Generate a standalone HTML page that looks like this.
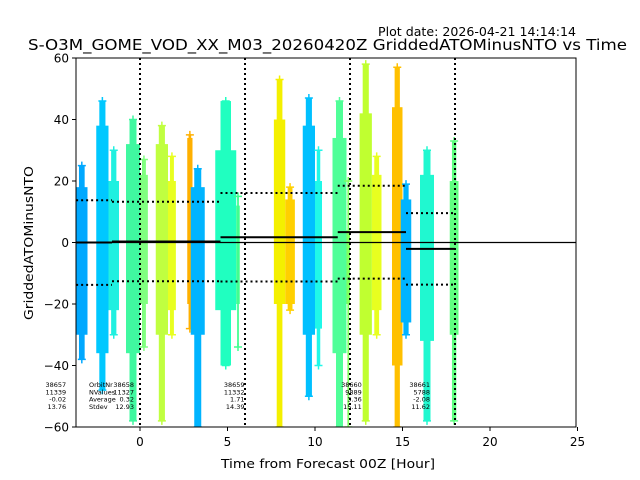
<!DOCTYPE html>
<html><head><meta charset="utf-8"><style>
body{margin:0;background:#fff;}
svg{display:block;font-family:"DejaVu Sans","Liberation Sans",sans-serif;}
</style></head><body>
<svg id="chart" width="640" height="480" xmlns="http://www.w3.org/2000/svg">
<text x="378" y="36" font-size="12" textLength="198" lengthAdjust="spacingAndGlyphs">Plot date: 2026-04-21 14:14:14</text>
<text x="28" y="50" font-size="15.5" textLength="599" lengthAdjust="spacingAndGlyphs">S-O3M_GOME_VOD_XX_M03_20260420Z GriddedATOMinusNTO vs Time</text>
<g id="marks"></g>
<rect x="76" y="58" width="500" height="369" fill="none" stroke="#000" stroke-width="1"/>
<g id="axes"></g>
<text x="221" y="468" font-size="12.5" textLength="214" lengthAdjust="spacingAndGlyphs">Time from Forecast 00Z [Hour]</text>
<text transform="translate(33,320) rotate(-90)" font-size="12.5" textLength="154" lengthAdjust="spacingAndGlyphs">GriddedATOMinusNTO</text>
</svg>
<script>
// strips: x start/end (hours), core top/bottom, tail top/bottom (values), colours
const stripX0 = [-3.65,-2.5,-1.8,-0.8,0.0,0.9,1.6,2.7,2.9,4.3,5.5,7.65,8.3,9.3,10.0,11.0,11.8,12.55,13.25,14.4,14.9,16.0,17.7];
const stripX1 = [-3.0,-1.8,-1.2,0.0,0.45,1.6,2.05,3.0,3.7,5.5,5.7,8.3,8.85,10.0,10.4,11.8,12.0,13.25,13.8,15.0,15.5,16.8,18.2];
const coreTop = [18,38,20,32,22,32,20,34,18,30,12,40,14,38,20,34,4,42,22,44,14,22,20];
const coreBot = [-30,-36,-22,-36,-20,-30,-22,-20,-30,-22,-20,-20,-20,-30,-28,-36,-20,-30,-22,-40,-26,-32,-30];
const tailTop = [25,46,30,40,27,38,28,35,24,46,15,53,18,47,30,46,20,58,28,57,19,30,33];
const tailBot = [-38,-48,-30,-58,-34,-58,-30,-28,-60,-40,-34,-60,-22,-50,-40,-60,-60,-58,-30,-60,-30,-58,-58];
const stripColor = ["#00a8ff","#00c8ff","#20f0e0","#40f8a0","#80ff80","#c0ff40","#e8ff20","#ffb000","#00b4ff","#20ffc0","#40ff90","#f4f000","#ffd000","#00c0ff","#20f8e8","#50ff98","#80ff60","#c0ff30","#e8ff20","#ffc000","#00b4ff","#20f8d0","#60ff80"];
// orbit statistics
const orbitNr = ["38657","38658","38659","38660","38661"];
const orbitStart = [-3.65,-1.6,4.6,11.3,15.2];
const orbitEnd = [-1.6,4.6,11.3,15.2,18.0];
const orbitN = ["11339","11327","11332","9889","5788"];
const orbitMean = [-0.02,0.32,1.71,3.36,-2.08];
const orbitStd = [13.76,12.93,14.39,15.11,11.62];
const vLines = [0,6,12,18];
const xTicks = [0,5,10,15,20,25];
const yTicks = [60,40,20,0,-20,-40,-60];

const X=h=>140+17.5*h;
const Y=v=>58+(60-v)*369/120;
const NS="http://www.w3.org/2000/svg";
const marks=document.getElementById('marks');
const axes=document.getElementById('axes');
function mk(tag,attrs,parent){const e=document.createElementNS(NS,tag);for(const k in attrs)e.setAttribute(k,attrs[k]);parent.appendChild(e);return e;}
const clip=mk('clipPath',{id:'pc'},marks);
mk('rect',{x:76,y:58,width:500,height:369},clip);
const g=mk('g',{'clip-path':'url(#pc)'},marks);

for(let i=0;i<stripX0.length;i++){
  const x0=X(stripX0[i]),x1=X(stripX1[i]),w=x1-x0,c=stripColor[i];
  const tail=mk('rect',{x:x0+w*0.25,y:Y(tailTop[i]),width:w*0.5,height:Y(tailBot[i])-Y(tailTop[i]),fill:c},g);
  
  
  const core=mk('rect',{x:x0,y:Y(coreTop[i]),width:w,height:Y(coreBot[i])-Y(coreTop[i]),fill:c},g);
  
  
  [tailTop[i],tailBot[i]].forEach(v=>{
    const cx=(x0+x1)/2,cy=Y(v);
    const p=mk('path',{d:`M${cx-4},${cy}H${cx+4}M${cx},${cy-4}V${cy+4}`,stroke:c,'stroke-width':1.5},g);
    
    
  });
}
const z=mk('line',{x1:76,x2:576,y1:Y(0),y2:Y(0),stroke:'#000','stroke-width':1.2},g);


vLines.forEach(h=>{
  const l=mk('line',{x1:X(h),x2:X(h),y1:58,y2:427,stroke:'#000','stroke-width':2,'stroke-dasharray':'2,3'},g);
  
  
});
const textOffset=[-10,22,24,24,24];
for(let i=0;i<orbitNr.length;i++){
  const a=X(orbitStart[i]),b=X(orbitEnd[i]);
  const m=mk('line',{x1:a,x2:b,y1:Y(orbitMean[i]),y2:Y(orbitMean[i]),stroke:'#000','stroke-width':2},g);
  
  
  [1,-1].forEach(s=>{
    const v=orbitMean[i]+s*orbitStd[i];
    const d=mk('line',{x1:a,x2:b,y1:Y(v),y2:Y(v),stroke:'#000','stroke-width':2,'stroke-dasharray':'2,3'},g);
    
    
  });
  const rx=X(orbitStart[i])+textOffset[i];
  const vals=[orbitNr[i],orbitN[i],orbitMean[i].toFixed(2),orbitStd[i].toFixed(2)];
  vals.forEach((t,k)=>{
    const tx=mk('text',{x:rx,y:387+k*7.3,'font-size':6.5,'text-anchor':'end'},marks);
    tx.textContent=t;
    
    
  });
}
["OrbitNr","NValues","Average","Stdev"].forEach((t,k)=>{
  const tx=mk('text',{x:89,y:387+k*7.3,'font-size':6.5},marks);
  tx.textContent=t;
  
  
});
xTicks.forEach(t=>{
  mk('line',{x1:X(t),x2:X(t),y1:427,y2:431,stroke:'#000'},axes);
  const tx=mk('text',{x:X(t),y:446,'font-size':12,'text-anchor':'middle'},axes);
  tx.textContent=t;
  
  
});
yTicks.forEach(t=>{
  mk('line',{x1:72,x2:76,y1:Y(t),y2:Y(t),stroke:'#000'},axes);
  const tx=mk('text',{x:69,y:Y(t)+4.5,'font-size':12,'text-anchor':'end'},axes);
  tx.textContent=t<0?'\u2212'+(-t):t;
  
  
});
</script>
</body></html>
